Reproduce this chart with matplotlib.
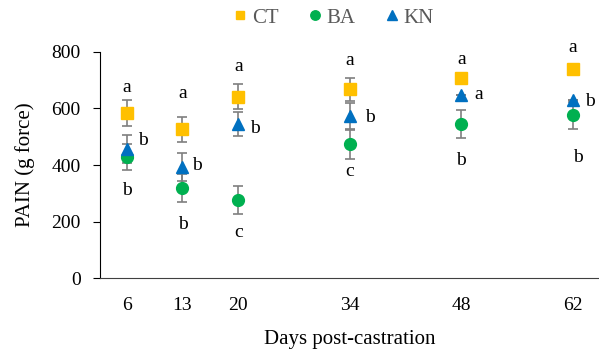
import matplotlib.pyplot as plt

days = [6, 13, 20, 34, 48, 62]

ct_mean = [584, 526, 641, 667, 708, 739]
ct_err = [45, 45, 44, 41, 0, 0]
ba_mean = [429, 320, 276, 473, 545, 576]
ba_err = [47, 50, 50, 50, 50, 48]
kn_mean = [456, 394, 545, 574, 646, 628]
kn_err = [50, 49, 43, 45, 0, 0]

# significance letters: (x, y, letter)
letters = [
    (6, 672, "a"), (8.0, 488, "b"), (6, 312, "b"),
    (13, 653, "a"), (14.8, 400, "b"), (13, 190, "b"),
    (20, 749, "a"), (22.1, 529, "b"), (20, 164, "c"),
    (34, 768, "a"), (36.5, 567, "b"), (34, 376, "c"),
    (48, 773, "a"), (50.2, 649, "a"), (48, 417, "b"),
    (62, 815, "a"), (64.2, 623, "b"), (62.7, 427, "b"),
]

plt.rcParams['font.family'] = ['Liberation Serif', 'DejaVu Serif']

fig = plt.figure(figsize=(5.99, 3.56), dpi=100)
ax = fig.add_axes([0.167, 0.2177, 0.833, 0.6371])

ebar = dict(ecolor='#7f7f7f', elinewidth=1.2, capsize=3.5, capthick=1.2, linestyle='none')
ax.errorbar(days, ct_mean, yerr=ct_err, marker='s', ms=8, color='#FFC000', label='CT', zorder=3, **ebar)
ax.errorbar(days, ba_mean, yerr=ba_err, marker='o', ms=8.5, color='#00B050', label='BA', zorder=3, **ebar)
ax.errorbar(days, kn_mean, yerr=kn_err, marker='^', ms=8.5, color='#0070C0', label='KN', zorder=3, **ebar)

for x, y, t in letters:
    ax.text(x, y, t, ha='center', va='center', fontsize=14)

ax.set_xlim(2.65, 65.3)
ax.set_ylim(0, 800)
ax.set_xticks(days)
ax.set_yticks([0, 200, 400, 600, 800])
ax.tick_params(axis='x', length=0, labelsize=14, pad=13)
ax.tick_params(axis='y', length=5, direction='out', labelsize=14, pad=9)
ax.spines['top'].set_visible(False)
ax.spines['right'].set_visible(False)
ax.spines['left'].set_color('#000000')
ax.spines['bottom'].set_color('#404040')

ax.set_xlabel("Days post-castration", fontsize=15, labelpad=12)
ax.set_ylabel("PAIN (g force)", fontsize=15, labelpad=12)

handles, labels = ax.get_legend_handles_labels()
handles = [h[0] for h in handles]
leg = fig.legend(handles, labels, loc='center', bbox_to_anchor=(0.558, 0.95), ncol=3,
                 frameon=False, fontsize=15, markerscale=0.8, handlelength=0.5,
                 handletextpad=0.3, columnspacing=1.5)
for t in leg.get_texts():
    t.set_color('#595959')

fig.savefig("out.png", dpi=100)
